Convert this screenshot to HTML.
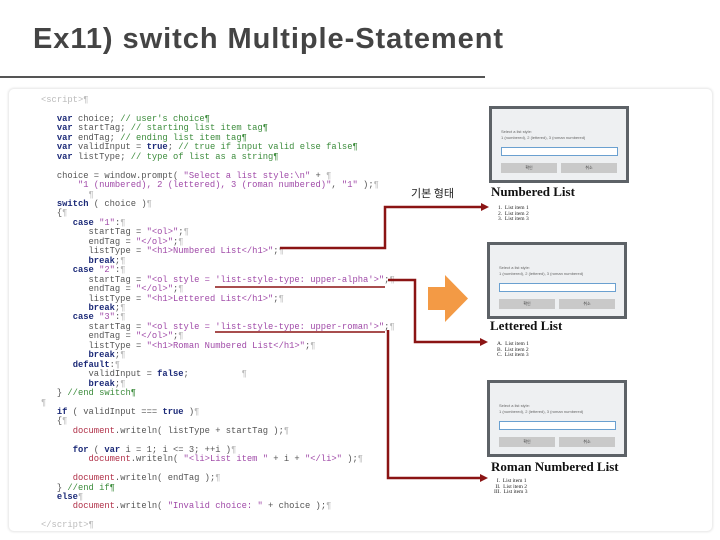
<!DOCTYPE html>
<html><head><meta charset="utf-8"><style>
html,body{margin:0;padding:0;background:#fff;width:720px;height:540px;overflow:hidden;position:relative}
.t{position:absolute;left:33px;top:23px;font-family:"Liberation Sans",sans-serif;font-size:29px;font-weight:bold;color:#444;letter-spacing:0.95px;white-space:nowrap}
.hl{position:absolute;left:0;top:76px;width:485px;height:2px;background:#555}
.panel{position:absolute;left:8px;top:88px;width:703px;height:442px;border:1px solid #eee;border-radius:6px;box-shadow:0 0 2px #e4e4e4}
pre{position:absolute;left:41px;top:96px;margin:0;font-family:"Liberation Mono",monospace;font-size:8.8px;line-height:9.45px;color:#555}
.k{color:#1c2a78;font-weight:bold}.c{color:#3c8c3c}.s{color:#a04aa8}.d{color:#b03048}.p{color:#bbb}
.dlg{position:absolute;width:134px;height:71px;border:3px solid #5d6267;background:#eef0f2;font-family:"Liberation Sans",sans-serif}
.dlg .l{position:absolute;left:9px;font-size:4px;color:#666;white-space:nowrap}
.dlg .in{position:absolute;left:9px;top:38px;width:115px;height:7px;background:#fff;border:1px solid #6aa0d0}
.dlg .b{position:absolute;top:54px;width:56px;height:10px;background:#c9c9c9;font-size:4px;text-align:center;line-height:10px;color:#444}
.h{position:absolute;font-family:"Liberation Serif",serif;font-weight:bold;font-size:13px;color:#111;white-space:nowrap}
.li{position:absolute;font-family:"Liberation Serif",serif;font-size:5.5px;line-height:5.5px;color:#222;white-space:pre}
.ko{position:absolute;left:411px;top:185px;font-family:"Noto Sans CJK KR",sans-serif;font-size:11px;color:#222}
</style></head><body>
<div class="t">Ex11) switch Multiple-Statement</div>
<div class="hl"></div>
<div class="panel"></div>
<pre><span class="p">&lt;script&gt;¶</span>

   <span class="k">var</span> choice; <span class="c">// user's choice¶</span>
   <span class="k">var</span> startTag; <span class="c">// starting list item tag¶</span>
   <span class="k">var</span> endTag; <span class="c">// ending list item tag¶</span>
   <span class="k">var</span> validInput = <span class="k">true</span>; <span class="c">// true if input valid else false¶</span>
   <span class="k">var</span> listType; <span class="c">// type of list as a string¶</span>

   choice = window.prompt( <span class="s">"Select a list style:\n"</span> + <span class="p">¶</span>
       <span class="s">"1 (numbered), 2 (lettered), 3 (roman numbered)"</span>, <span class="s">"1"</span> );<span class="p">¶</span>
         <span class="p">¶</span>
   <span class="k">switch</span> ( choice )<span class="p">¶</span>
   {<span class="p">¶</span>
      <span class="k">case</span> <span class="s">"1"</span>:<span class="p">¶</span>
         startTag = <span class="s">"&lt;ol&gt;"</span>;<span class="p">¶</span>
         endTag = <span class="s">"&lt;/ol&gt;"</span>;<span class="p">¶</span>
         listType = <span class="s">"&lt;h1&gt;Numbered List&lt;/h1&gt;"</span>;<span class="p">¶</span>
         <span class="k">break</span>;<span class="p">¶</span>
      <span class="k">case</span> <span class="s">"2"</span>:<span class="p">¶</span>
         startTag = <span class="s">"&lt;ol style = 'list-style-type: upper-alpha'&gt;"</span>;<span class="p">¶</span>
         endTag = <span class="s">"&lt;/ol&gt;"</span>;<span class="p">¶</span>
         listType = <span class="s">"&lt;h1&gt;Lettered List&lt;/h1&gt;"</span>;<span class="p">¶</span>
         <span class="k">break</span>;<span class="p">¶</span>
      <span class="k">case</span> <span class="s">"3"</span>:<span class="p">¶</span>
         startTag = <span class="s">"&lt;ol style = 'list-style-type: upper-roman'&gt;"</span>;<span class="p">¶</span>
         endTag = <span class="s">"&lt;/ol&gt;"</span>;<span class="p">¶</span>
         listType = <span class="s">"&lt;h1&gt;Roman Numbered List&lt;/h1&gt;"</span>;<span class="p">¶</span>
         <span class="k">break</span>;<span class="p">¶</span>
      <span class="k">default</span>:<span class="p">¶</span>
         validInput = <span class="k">false</span>;          <span class="p">¶</span>
         <span class="k">break</span>;<span class="p">¶</span>
   } <span class="c">//end switch¶</span>
<span class="p">¶</span>
   <span class="k">if</span> ( validInput === <span class="k">true</span> )<span class="p">¶</span>
   {<span class="p">¶</span>
      <span class="d">document</span>.writeln( listType + startTag );<span class="p">¶</span>

      <span class="k">for</span> ( <span class="k">var</span> i = 1; i &lt;= 3; ++i )<span class="p">¶</span>
         <span class="d">document</span>.writeln( <span class="s">"&lt;li&gt;List item "</span> + i + <span class="s">"&lt;/li&gt;"</span> );<span class="p">¶</span>

      <span class="d">document</span>.writeln( endTag );<span class="p">¶</span>
   } <span class="c">//end if¶</span>
   <span class="k">else</span><span class="p">¶</span>
      <span class="d">document</span>.writeln( <span class="s">"Invalid choice: "</span> + choice );<span class="p">¶</span>

<span class="p">&lt;/script&gt;¶</span></pre>

<div class="dlg" style="left:489px;top:106px">
  <div class="l" style="top:20px">Select a list style:</div>
  <div class="l" style="top:26px">1 (numbered), 2 (lettered), 3 (roman numbered)</div>
  <div class="in"></div>
  <div class="b" style="left:9px">확인</div><div class="b" style="left:69px">취소</div>
</div>
<div class="h" style="left:491px;top:184px">Numbered List</div>
<div class="li" style="left:498px;top:206px">1.  List item 1
2.  List item 2
3.  List item 3</div>

<div class="dlg" style="left:487px;top:242px">
  <div class="l" style="top:20px">Select a list style:</div>
  <div class="l" style="top:26px">1 (numbered), 2 (lettered), 3 (roman numbered)</div>
  <div class="in"></div>
  <div class="b" style="left:9px">확인</div><div class="b" style="left:69px">취소</div>
</div>
<div class="h" style="left:490px;top:318px">Lettered List</div>
<div class="li" style="left:497px;top:342px">A.  List item 1
B.  List item 2
C.  List item 3</div>

<div class="dlg" style="left:487px;top:380px">
  <div class="l" style="top:20px">Select a list style:</div>
  <div class="l" style="top:26px">1 (numbered), 2 (lettered), 3 (roman numbered)</div>
  <div class="in"></div>
  <div class="b" style="left:9px">확인</div><div class="b" style="left:69px">취소</div>
</div>
<div class="h" style="left:491px;top:459px">Roman Numbered List</div>
<div class="li" style="left:494px;top:479px">  I.  List item 1
 II.  List item 2
III.  List item 3</div>

<div class="ko">기본 형태</div>

<svg width="720" height="540" style="position:absolute;left:0;top:0" xmlns="http://www.w3.org/2000/svg">
  <polygon points="428,287 445,287 445,275 468,298.5 445,322 445,310 428,310" fill="#f39a45"/>
  <g stroke="#8b1414" stroke-width="2.5" fill="none">
    <polyline points="280,248 385,248 385,207 483,207"/>
    <line x1="215" y1="287" x2="385" y2="287" stroke-width="1.5"/>
    <polyline points="388,280 415,280 415,342 482,342"/>
    <line x1="215" y1="332" x2="385" y2="332" stroke-width="1.5"/>
    <polyline points="388,330 388,478 482,478"/>
  </g>
  <g fill="#8b1414">
    <polygon points="481,203 489,207 481,211"/>
    <polygon points="480,338 488,342 480,346"/>
    <polygon points="480,474 488,478 480,482"/>
  </g>
</svg>
</body></html>
